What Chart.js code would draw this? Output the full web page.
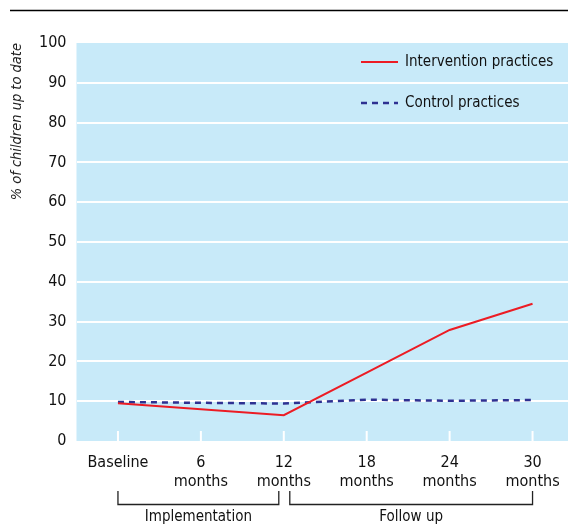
<!DOCTYPE html>
<html>
<head>
<meta charset="utf-8">
<script src="https://cdn.jsdelivr.net/npm/chart.js@4"></script>
<style>
html,body{margin:0;padding:0;background:#fff;overflow:hidden;}
#wrap{width:574px;height:524px;}
</style>
</head>
<body>
<div id="wrap"><canvas id="c" width="574" height="524"></canvas></div>
<script>
const categories = [["Baseline"], ["6", "months"], ["12", "months"], ["18", "months"], ["24", "months"], ["30", "months"]];
const interventionValues = [9.5, null, 6.5, 17.2, 27.9, 34.5];
const controlValues = [9.8, null, 9.4, 10.4, 10.1, 10.3];
const yTicks = [0, 10, 20, 30, 40, 50, 60, 70, 80, 90, 100];
const phases = [
  { label: "Implementation", from: 0, to: 2 },
  { label: "Follow up", from: 2, to: 5 }
];

const FONT = "'Liberation Sans Narrow', 'Arial Narrow', 'DejaVu Sans Condensed', sans-serif";
const BG = '#c8eaf9';
const RED = '#ec1c24';
const NAVY = '#2e3192';

const decor = {
  id: 'decor',
  beforeDraw(chart) {
    const ctx = chart.ctx, a = chart.chartArea;
    ctx.save();
    ctx.fillStyle = BG;
    ctx.fillRect(a.left, a.top, a.right - a.left, a.bottom - a.top);
    ctx.strokeStyle = '#000';
    ctx.lineWidth = 1.3;
    ctx.beginPath();
    ctx.moveTo(10, 10.5);
    ctx.lineTo(chart.width, 10.5);
    ctx.stroke();
    ctx.restore();
  },
  beforeDatasetsDraw(chart) {
    const ctx = chart.ctx, a = chart.chartArea, xs = chart.scales.x;
    ctx.save();
    ctx.strokeStyle = '#fff';
    ctx.lineWidth = 2;
    for (let i = 0; i < categories.length; i++) {
      const x = xs.getPixelForValue(i);
      ctx.beginPath();
      ctx.moveTo(x, a.bottom - 10);
      ctx.lineTo(x, a.bottom);
      ctx.stroke();
    }
    ctx.restore();
  },
  afterDraw(chart) {
    const ctx = chart.ctx, a = chart.chartArea, xs = chart.scales.x;
    ctx.save();
    const ds = chart.data.datasets;
    const ly = [a.top + 19, a.top + 60];
    ds.forEach((d, i) => {
      ctx.strokeStyle = d.borderColor;
      ctx.lineWidth = d.borderWidth;
      ctx.setLineDash(d.borderDash || []);
      ctx.beginPath();
      ctx.moveTo(361, ly[i]);
      ctx.lineTo(398, ly[i]);
      ctx.stroke();
      ctx.setLineDash([]);
      ctx.fillStyle = '#111';
      ctx.font = '15px ' + FONT;
      ctx.textBaseline = 'middle';
      ctx.textAlign = 'left';
      ctx.fillText(d.label, 405, ly[i]);
    });
    ctx.strokeStyle = '#222';
    ctx.lineWidth = 1.3;
    const yTop = 491, yBot = 504.5;
    phases.forEach((p, i) => {
      let x1 = xs.getPixelForValue(p.from);
      let x2 = xs.getPixelForValue(p.to);
      if (i === 0) x2 -= 5; else x1 += 6;
      ctx.beginPath();
      ctx.moveTo(x1, yTop);
      ctx.lineTo(x1, yBot);
      ctx.lineTo(x2, yBot);
      ctx.lineTo(x2, yTop);
      ctx.stroke();
      ctx.fillStyle = '#111';
      ctx.font = '15px ' + FONT;
      ctx.textAlign = 'center';
      ctx.textBaseline = 'middle';
      ctx.fillText(p.label, (x1 + x2) / 2, 517);
    });
    ctx.restore();
  }
};

new Chart(document.getElementById('c'), {
  type: 'line',
  data: {
    labels: categories,
    datasets: [
      {
        label: 'Intervention practices',
        data: interventionValues,
        borderColor: RED,
        borderWidth: 2,
        pointRadius: 0,
        spanGaps: true,
        tension: 0,
        fill: false
      },
      {
        label: 'Control practices',
        data: controlValues,
        borderColor: NAVY,
        borderWidth: 2.5,
        borderDash: [6, 5],
        pointRadius: 0,
        spanGaps: true,
        tension: 0,
        fill: false
      }
    ]
  },
  options: {
    responsive: false,
    animation: false,
    devicePixelRatio: 1,
    layout: { padding: { top: 43, right: 0, left: 0, bottom: 0 } },
    plugins: { legend: { display: false }, tooltip: { enabled: false } },
    scales: {
      x: {
        type: 'category',
        offset: true,
        grid: { display: false },
        border: { display: false },
        ticks: {
          color: '#111',
          font: { family: FONT, size: 16, lineHeight: 1.15 },
          padding: 5,
          maxRotation: 0,
          autoSkip: false
        },
        afterFit(scale) { scale.height = 83; }
      },
      y: {
        min: 0,
        max: 100,
        afterBuildTicks(scale) { scale.ticks = yTicks.map(v => ({ value: v })); },
        grid: {
          color: ctx => (ctx.tick && (ctx.tick.value === 0 || ctx.tick.value === 100)) ? 'rgba(0,0,0,0)' : '#ffffff',
          lineWidth: 2,
          drawTicks: false
        },
        border: { display: false },
        ticks: {
          color: '#111',
          font: { family: FONT, size: 16 },
          padding: 10
        },
        title: {
          display: true,
          text: '% of children up to date',
          align: 'end',
          color: '#222',
          font: { family: FONT, size: 14.5, style: 'italic' },
          padding: { top: 9, bottom: 0 }
        },
        afterFit(scale) { scale.width = 76.5; }
      }
    }
  },
  plugins: [decor]
});
</script>
</body>
</html>
